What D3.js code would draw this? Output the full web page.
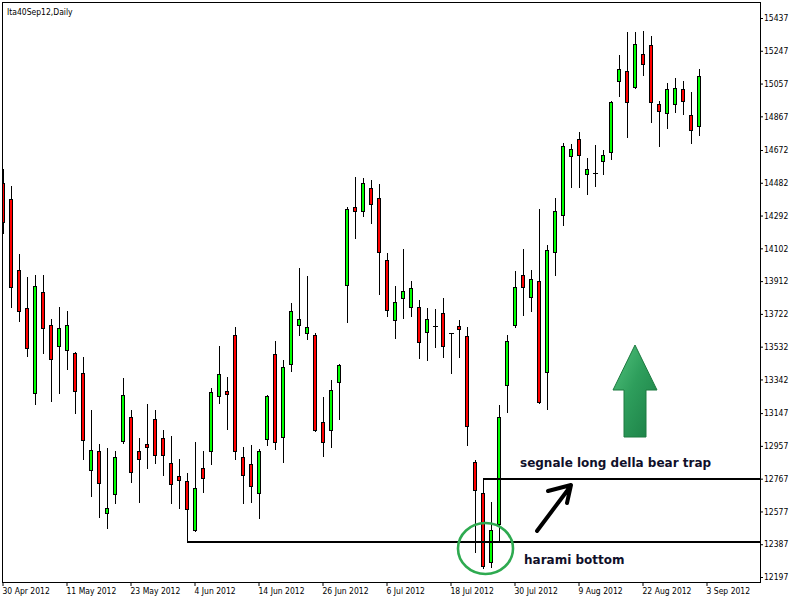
<!DOCTYPE html>
<html><head><meta charset="utf-8">
<script src="https://cdn.jsdelivr.net/npm/d3@7"></script>
<style>html,body{margin:0;padding:0;background:#fff;} svg{display:block;}</style>
</head><body><svg id="c" width="797" height="600"></svg>
<script>
const dates = [
"2012-04-30","2012-05-02","2012-05-03","2012-05-04","2012-05-07","2012-05-08","2012-05-09","2012-05-10","2012-05-11",
"2012-05-14","2012-05-15","2012-05-16","2012-05-17","2012-05-18","2012-05-21","2012-05-22","2012-05-23",
"2012-05-24","2012-05-25","2012-05-28","2012-05-29","2012-05-30","2012-05-31","2012-06-01","2012-06-04",
"2012-06-05","2012-06-06","2012-06-07","2012-06-08","2012-06-11","2012-06-12","2012-06-13","2012-06-14",
"2012-06-15","2012-06-18","2012-06-19","2012-06-20","2012-06-21","2012-06-22","2012-06-25","2012-06-26",
"2012-06-27","2012-06-28","2012-06-29","2012-07-02","2012-07-03","2012-07-04","2012-07-05","2012-07-06",
"2012-07-09","2012-07-10","2012-07-11","2012-07-12","2012-07-13","2012-07-16","2012-07-17","2012-07-18",
"2012-07-19","2012-07-20","2012-07-23","2012-07-24","2012-07-25","2012-07-26","2012-07-27","2012-07-30",
"2012-07-31","2012-08-01","2012-08-02","2012-08-03","2012-08-06","2012-08-07","2012-08-08","2012-08-09",
"2012-08-10","2012-08-13","2012-08-14","2012-08-16","2012-08-17","2012-08-20","2012-08-21","2012-08-22",
"2012-08-23","2012-08-24","2012-08-27","2012-08-28","2012-08-29","2012-08-30","2012-08-31"];
const futureDates = ["2012-09-03"];
const open = [14482,14386,13976,13754,13262,13847,13658,13538,13511,
13495,13379,12815,12926,12566,12676,12984,13123,
12926,12966,13111,13001,12856,12781,12752,12468,
12827,12926,13244,13273,13598,12891,12850,12682,
12995,13488,13010,13430,13656,13610,13598,13094,
13047,13326,13888,14340,14317,14450,14392,14034,
13685,13812,13760,13760,13615,13650,13725,13610,
13650,13592,12862,12684,12286,12502,13312,13656,
13946,13818,13911,13383,14079,14293,14635,14734,
14531,14540,14606,14659,15070,15128,15035,15227,
15279,14937,14885,14937,15024,14873,14809];
const high = [14560,14463,14069,13938,13947,13947,13692,13762,13739,
13501,13472,13165,12968,12945,12927,13350,13165,
13003,13200,13165,13049,13014,12881,12798,12980,
12927,13291,13536,13356,13646,12951,12962,12937,
13250,13563,13453,13783,13988,13942,13610,13239,
13339,13432,14340,14515,14510,14498,14475,14075,
13884,14098,13913,13803,13756,13750,13814,13610,
13685,13644,12875,12765,12632,13192,13600,13971,
14098,13975,14330,14120,14392,14711,14705,14775,
14624,14699,14670,14956,15223,15356,15356,15362,
15333,14956,15060,15088,15070,15008,15140];
const low = [14189,13764,13683,13478,13200,13497,13219,13265,13404,
13149,12883,12668,12547,12483,12628,12975,12749,
12633,12831,12860,12790,12628,12599,12405,12465,
12691,12854,13204,13053,12879,12628,12633,12541,
12964,12941,12865,13393,13598,13575,13042,12897,
12949,13111,13677,14164,14288,14247,13836,13708,
13584,13700,13712,13468,13456,13532,13474,13381,
13474,12964,12344,12247,12257,12406,13153,13644,
13717,13741,13207,13172,13949,14239,14459,14459,
14419,14465,14535,14618,14987,14749,15030,15108,
14836,14697,14801,14894,14879,14714,14761];
const close = [14255,13880,13741,13526,13884,13642,13459,13638,13658,
13273,12989,12931,12740,12595,12893,13250,12804,
12879,12952,12902,12902,12734,12758,12589,12711,
12773,13268,13372,13256,12926,12786,12723,12926,
13244,12981,13412,13737,13691,13644,13047,12978,
13279,13424,14328,14317,14479,14357,14082,13743,
13789,13853,13870,13561,13691,13650,13534,13610,
13633,13070,12700,12262,12468,13123,13563,13876,
13876,13922,13213,14091,14317,14693,14676,14641,
14560,14540,14641,14948,15140,14948,15285,15169,
14948,14896,15024,15030,14954,14786,15099];
const priceTicks = [15437,15247,15057,14867,14672,14482,14292,14102,13912,13722,13532,13342,13147,12957,12767,12577,12387,12197];
const dateTickDates = ["2012-04-30","2012-05-11","2012-05-23","2012-06-04","2012-06-14","2012-06-26","2012-07-06","2012-07-18","2012-07-30","2012-08-09","2012-08-22","2012-09-03"];
const dateTickLabels = ["30 Apr 2012","11 May 2012","23 May 2012","4 Jun 2012","14 Jun 2012","26 Jun 2012","6 Jul 2012","18 Jul 2012","30 Jul 2012","9 Aug 2012","22 Aug 2012","3 Sep 2012"];
const title = "Ita40Sep12,Daily";
const supportLevel = 12400, supportFrom = "2012-06-01";
const signalLevel = 12765, signalFrom = "2012-07-24";
const labelSignal = "segnale long della bear trap";
const labelHarami = "harami bottom";

const svg = d3.select("#c");
const L = 2.5, T = 2.5, R = 760.5, B = 582.5;
const axisFont = "'DejaVu Sans Condensed','DejaVu Sans',sans-serif";

const x = d3.scaleBand().domain(dates.concat(futureDates)).range([-1, -1 + 8 * (dates.length + futureDates.length)]);
const cx = d => x(d) + x.bandwidth() / 2;
const y = d3.scaleLinear().domain([12197, 15437]).range([577, 18]);

const defs = svg.append("defs");
defs.append("clipPath").attr("id", "plot")
  .append("rect").attr("x", 3).attr("y", 3).attr("width", 757).attr("height", 579);

const candles = dates.map((d, i) => ({d, o: open[i], h: high[i], l: low[i], c: close[i]}));
const g = svg.append("g").attr("clip-path", "url(#plot)");

// wicks
g.selectAll("line.wick").data(candles).join("line").attr("class", "wick")
  .attr("x1", d => cx(d.d) + 0.5).attr("x2", d => cx(d.d) + 0.5)
  .attr("y1", d => Math.round(y(d.h))).attr("y2", d => Math.round(y(d.l)) + 1)
  .attr("stroke", "#000").attr("stroke-width", 1);

// bodies
g.selectAll("rect.body").data(candles.filter(d => d.o !== d.c)).join("rect").attr("class", "body")
  .attr("x", d => cx(d.d) - 1.5).attr("width", 3)
  .attr("y", d => Math.round(y(Math.max(d.o, d.c))) + 0.5)
  .attr("height", d => Math.max(1, Math.round(y(Math.min(d.o, d.c))) - Math.round(y(Math.max(d.o, d.c)))))
  .attr("fill", d => d.c > d.o ? "#00ff00" : "#ff0000")
  .attr("stroke", "#000").attr("stroke-width", 1);

// doji
g.selectAll("line.doji").data(candles.filter(d => d.o === d.c)).join("line").attr("class", "doji")
  .attr("x1", d => cx(d.d) - 2).attr("x2", d => cx(d.d) + 3)
  .attr("y1", d => Math.round(y(d.o)) + 0.5).attr("y2", d => Math.round(y(d.o)) + 0.5)
  .attr("stroke", "#000").attr("stroke-width", 1);

// frame
svg.append("rect").attr("x", L).attr("y", T).attr("width", R - L).attr("height", B - T)
  .attr("fill", "none").attr("stroke", "#000").attr("stroke-width", 1);

// right axis
const ay = svg.append("g").attr("transform", "translate(760,0)")
  .call(d3.axisRight(y).tickValues(priceTicks).tickSize(3).tickPadding(1).tickFormat(d => String(d)));
ay.select(".domain").remove();
ay.selectAll("text").attr("font-family", axisFont).attr("font-size", "8.5px").attr("fill", "#000");
ay.selectAll("line").attr("stroke", "#000");

// bottom axis
const labMap = new Map(dateTickDates.map((d, i) => [d, dateTickLabels[i]]));
const ax = svg.append("g").attr("transform", "translate(0,583)")
  .call(d3.axisBottom(x).tickValues(dateTickDates).tickSize(3).tickPadding(2).tickFormat(d => labMap.get(d)));
ax.select(".domain").remove();
ax.selectAll("text").attr("font-family", axisFont).attr("font-size", "8.5px").attr("fill", "#000")
  .attr("text-anchor", "start").attr("x", -0.5);
ax.selectAll("line").attr("stroke", "#000");

// title
svg.append("text").attr("x", 7).attr("y", 15).attr("font-family", axisFont)
  .attr("font-size", "8.5px").attr("fill", "#000").text(title);

// annotations: horizontal levels
const ann = svg.append("g");
ann.append("line").attr("x1", cx(supportFrom)).attr("x2", 760)
  .attr("y1", y(supportLevel)).attr("y2", y(supportLevel)).attr("stroke", "#000").attr("stroke-width", 2);
ann.append("line").attr("x1", cx(signalFrom)).attr("x2", 760)
  .attr("y1", y(signalLevel)).attr("y2", y(signalLevel)).attr("stroke", "#000").attr("stroke-width", 2);

// harami circle
ann.append("ellipse").attr("cx", 485.5).attr("cy", 548.5).attr("rx", 27.5).attr("ry", 25.5)
  .attr("fill", "none").attr("stroke", "#2eaa50").attr("stroke-width", 2.6);

// black arrow
ann.append("path").attr("d", "M537,531 L570,487 M548,491 L571,485 L567,503")
  .attr("fill", "none").attr("stroke", "#000").attr("stroke-width", 4)
  .attr("stroke-linecap", "round").attr("stroke-linejoin", "round");

// texts
ann.append("text").attr("x", 520).attr("y", 467).attr("font-family", "'DejaVu Sans',sans-serif")
  .attr("font-weight", "bold").attr("font-size", "12px").attr("fill", "#10102a").text(labelSignal);
ann.append("text").attr("x", 524).attr("y", 564).attr("font-family", "'DejaVu Sans',sans-serif")
  .attr("font-weight", "bold").attr("font-size", "12px").attr("fill", "#10102a").text(labelHarami);

// green up arrow
const grad = defs.append("linearGradient").attr("id", "ga")
  .attr("x1", "0").attr("y1", "0").attr("x2", "1").attr("y2", "1");
grad.append("stop").attr("offset", "0").attr("stop-color", "#55c47f");
grad.append("stop").attr("offset", "0.45").attr("stop-color", "#2e9e5c");
grad.append("stop").attr("offset", "1").attr("stop-color", "#1a7d44");
ann.append("path").attr("d", "M635,345 L657,390 L646,390 L646,437 L624,437 L624,390 L613,390 Z")
  .attr("fill", "url(#ga)").attr("stroke", "#1d7a40").attr("stroke-width", 1);
</script>
</body></html>
